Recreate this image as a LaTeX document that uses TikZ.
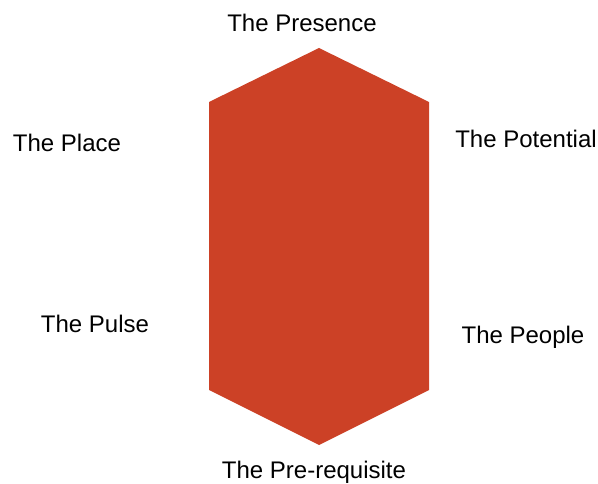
\documentclass[tikz,border=0pt]{standalone}
\usepackage{fontspec}
\setmainfont{Liberation Sans}
\definecolor{hexred}{RGB}{204,65,38}
\begin{document}
\begin{tikzpicture}[x=1pt,y=-1pt,
  lbl/.style={inner sep=0pt,anchor=base,font=\fontsize{24}{28}\selectfont,text=black}]
\useasboundingbox (0,0) rectangle (598,484);
\fill[hexred] (319,48) -- (429,102) -- (429,390) -- (319,445) -- (209,390) -- (209,102) -- cycle;
\node[lbl] (presence) at (302,31.5) {The Presence};
\node[lbl] (place) at (67,152) {The Place};
\node[lbl] (potential) at (526,148) {The Potential};
\node[lbl] (pulse) at (95,333) {The Pulse};
\node[lbl] (people) at (523,343) {The People};
\node[lbl] (prereq) at (314,478) {The Pre-requisite};
\end{tikzpicture}
\end{document}
